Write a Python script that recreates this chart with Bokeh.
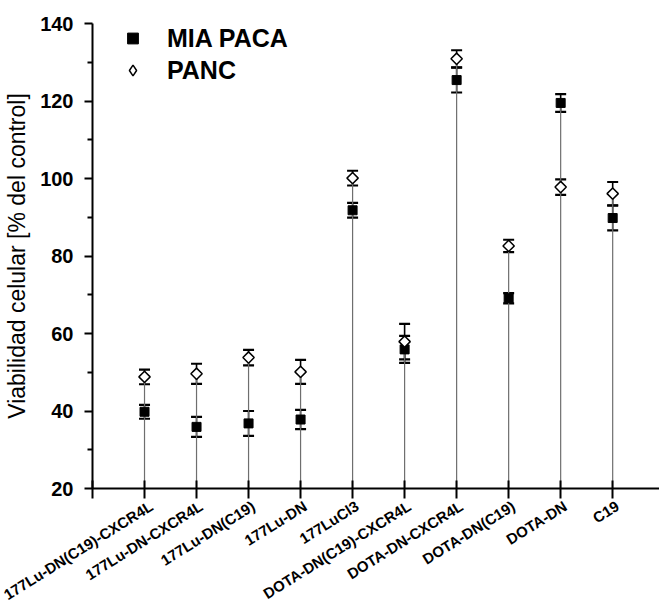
import math
from bokeh.plotting import figure
from bokeh.models import (Range1d, FixedTicker, Whisker, TeeHead, ColumnDataSource,
                          Legend, LegendItem, LinearAxis)
from bokeh.embed import file_html
from bokeh.resources import INLINE

categories = ["177Lu-DN(C19)-CXCR4L", "177Lu-DN-CXCR4L", "177Lu-DN(C19)", "177Lu-DN",
              "177LuCl3", "DOTA-DN(C19)-CXCR4L", "DOTA-DN-CXCR4L", "DOTA-DN(C19)",
              "DOTA-DN", "C19"]
mia = [39.8, 35.9, 36.8, 37.8, 91.8, 55.9, 125.4, 69.1, 119.5, 89.8]
mia_err = [1.8, 2.6, 3.2, 2.5, 1.9, 3.5, 3.2, 1.3, 2.3, 3.2]
panc = [48.8, 49.6, 53.8, 50.1, 100.1, 57.9, 130.9, 82.6, 97.8, 96.1]
panc_err = [1.9, 2.6, 2.0, 3.1, 1.9, 4.6, 2.2, 1.6, 2.0, 3.0]
y_ticks = [20, 40, 60, 80, 100, 120, 140]
y_minor = [30, 50, 70, 90, 110, 130]

y_min, y_max = 20, 140
x_min, x_max = 0, 10.9
n = len(categories)
xs = list(range(1, n + 1))

src = ColumnDataSource(dict(
    x=xs,
    mia=mia, mia_lo=[m - e for m, e in zip(mia, mia_err)], mia_hi=[m + e for m, e in zip(mia, mia_err)],
    panc=panc, panc_lo=[m - e for m, e in zip(panc, panc_err)], panc_hi=[m + e for m, e in zip(panc, panc_err)],
    base=[y_min] * n, top=[max(a, b) for a, b in zip(mia, panc)],
))

p = figure(width=659, height=614, output_backend="svg", toolbar_location=None,
           x_range=Range1d(x_min, x_max), y_range=Range1d(y_min, y_max),
           min_border_left=92, min_border_right=0, min_border_top=23, min_border_bottom=126)
p.outline_line_color = None
p.grid.visible = False
p.background_fill_color = "white"

# drop lines
p.segment(x0="x", y0="base", x1="x", y1="top", source=src, line_color="#6e6e6e", line_width=1.2)

# error bars
for lo, hi in (("mia_lo", "mia_hi"), ("panc_lo", "panc_hi")):
    w = Whisker(source=src, base="x", lower=lo, upper=hi, dimension="height",
                line_color="black", line_width=1.6,
                upper_head=TeeHead(size=11, line_width=2.2, line_color="black"),
                lower_head=TeeHead(size=11, line_width=2.2, line_color="black"))
    p.add_layout(w)

sq = p.scatter(x="x", y="mia", source=src, marker="square", size=9,
               fill_color="black", line_color="black", line_width=1)
dm = p.scatter(x="x", y="panc", source=src, marker="square", size=8, angle=math.pi / 4,
               fill_color="white", line_color="black", line_width=1.5)
# diamond glyph used only for the legend swatch (legend swatches ignore angle)
dm_leg = p.scatter(x="x", y="panc", source=src, marker="diamond", size=12,
                   fill_color="white", line_color="black", line_width=1.5, visible=False)

legend = Legend(items=[LegendItem(label="MIA PACA", renderers=[sq]),
                       LegendItem(label="PANC", renderers=[dm_leg])],
                location=(27, 403), padding=0, margin=0, spacing=2,
                glyph_width=27, glyph_height=30, label_height=30, label_standoff=21,
                border_line_color=None, background_fill_alpha=0,
                label_text_font="Liberation Sans", label_text_font_style="bold",
                label_text_font_size="25px", label_text_color="black")
p.add_layout(legend)

# main x axis: line and ticks only
xa = p.xaxis[0]
xa.ticker = FixedTicker(ticks=[0] + xs)
xa.major_label_overrides = {x: "" for x in [0] + xs}
xa.major_label_text_font_size = "0px"
xa.major_label_standoff = 0
xa.axis_line_width = 2
xa.axis_line_color = "black"
xa.major_tick_in = 8
xa.major_tick_out = 10
xa.major_tick_line_width = 2
xa.major_tick_line_color = "black"
xa.minor_tick_line_color = None

# label axis (category names, right end slightly past each tick)
shift = 0.09
p.extra_x_ranges = {"lab": Range1d(x_min - shift, x_max - shift)}
la = LinearAxis(x_range_name="lab", ticker=FixedTicker(ticks=xs))
la.major_label_overrides = {x: c for x, c in zip(xs, categories)}
la.major_label_orientation = math.radians(32)
la.major_label_text_font = "Liberation Sans"
la.major_label_text_font_style = "bold"
la.major_label_text_font_size = "15px"
la.major_label_text_color = "black"
la.axis_line_color = None
la.major_tick_line_color = None
la.minor_tick_line_color = None
la.major_tick_in = 0
la.major_tick_out = 0
la.major_label_standoff = 6
p.add_layout(la, "below")

# y axis
ya = p.yaxis[0]
ya.ticker = FixedTicker(ticks=y_ticks, minor_ticks=y_minor)
ya.major_label_text_font = "Liberation Sans"
ya.major_label_text_font_style = "bold"
ya.major_label_text_font_size = "20px"
ya.major_label_text_color = "black"
ya.axis_line_width = 2
ya.axis_line_color = "black"
ya.major_tick_in = 0
ya.major_tick_out = 8
ya.major_tick_line_width = 2
ya.minor_tick_in = 0
ya.minor_tick_out = 5
ya.minor_tick_line_width = 2
ya.major_label_standoff = 11
ya.axis_label = "Viabilidad celular [% del control]"
ya.axis_label_text_font = "Liberation Sans"
ya.axis_label_text_font_style = "normal"
ya.axis_label_text_font_size = "23px"
ya.axis_label_text_color = "black"
ya.axis_label_standoff = 7

open("out.html", "w").write(file_html(p, INLINE))
